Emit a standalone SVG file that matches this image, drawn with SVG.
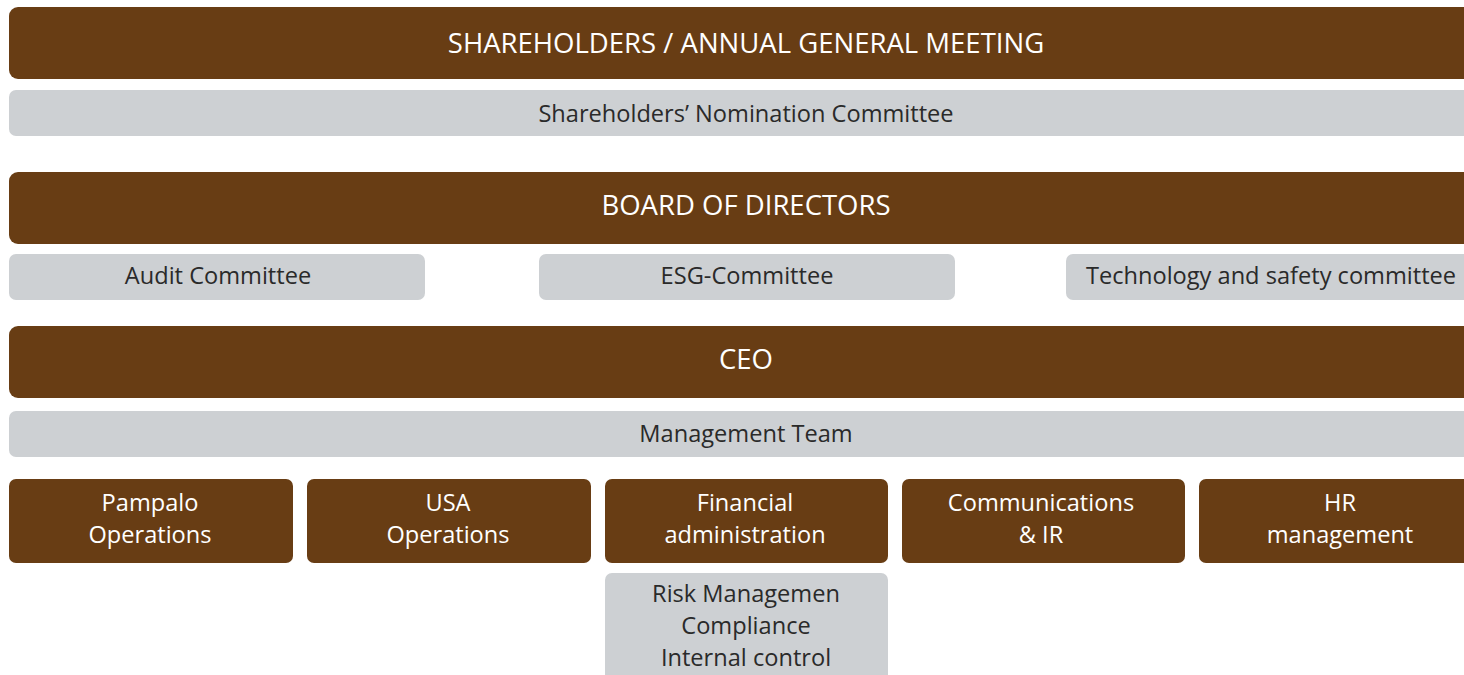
<svg xmlns="http://www.w3.org/2000/svg" width="1464" height="675" viewBox="0 0 1464 675">
  <style>
    .bar { fill: #683d14; }
    .sub { fill: #cdd0d3; }
    .hd { font-family: "Open Sans", "Liberation Sans", sans-serif; font-size: 27.5px; fill: #ffffff; text-anchor: middle; }
    .lt { font-family: "Open Sans", "Liberation Sans", sans-serif; font-size: 23.6px; fill: #ffffff; text-anchor: middle; }
    .dk { font-family: "Open Sans", "Liberation Sans", sans-serif; font-size: 23.6px; fill: #2a2a2a; text-anchor: middle; }
  </style>
  <rect width="1464" height="675" fill="#ffffff"/>

  <g id="agm">
    <rect class="bar" x="9" y="7" width="1490" height="72" rx="9"/>
    <text class="hd" x="746" y="53">SHAREHOLDERS / ANNUAL GENERAL MEETING</text>
  </g>
  <g id="nomination">
    <rect class="sub" x="9" y="90" width="1490" height="46" rx="7"/>
    <text class="dk" x="746" y="122">Shareholders’ Nomination Committee</text>
  </g>

  <g id="board">
    <rect class="bar" x="9" y="172" width="1490" height="72" rx="9"/>
    <text class="hd" x="746" y="215">BOARD OF DIRECTORS</text>
  </g>
  <g id="audit">
    <rect class="sub" x="9" y="254" width="416" height="46" rx="7"/>
    <text class="dk" x="218" y="284">Audit Committee</text>
  </g>
  <g id="esg">
    <rect class="sub" x="539" y="254" width="416" height="46" rx="7"/>
    <text class="dk" x="747" y="284">ESG-Committee</text>
  </g>
  <g id="tech">
    <rect class="sub" x="1066" y="254" width="430" height="46" rx="7"/>
    <text class="dk" x="1271" y="284">Technology and safety committee</text>
  </g>

  <g id="ceo">
    <rect class="bar" x="9" y="326" width="1490" height="72" rx="9"/>
    <text class="hd" x="746" y="369">CEO</text>
  </g>
  <g id="management">
    <rect class="sub" x="9" y="411" width="1490" height="46" rx="7"/>
    <text class="dk" x="746" y="442">Management Team</text>
  </g>

  <g id="pampalo">
    <rect class="bar" x="9" y="479" width="284" height="84" rx="7"/>
    <text class="lt" x="150" y="511">Pampalo</text>
    <text class="lt" x="150" y="543">Operations</text>
  </g>
  <g id="usa">
    <rect class="bar" x="307" y="479" width="284" height="84" rx="7"/>
    <text class="lt" x="448" y="511">USA</text>
    <text class="lt" x="448" y="543">Operations</text>
  </g>
  <g id="finance">
    <rect class="bar" x="605" y="479" width="283" height="84" rx="7"/>
    <text class="lt" x="745" y="511">Financial</text>
    <text class="lt" x="745" y="543">administration</text>
  </g>
  <g id="communications">
    <rect class="bar" x="902" y="479" width="283" height="84" rx="7"/>
    <text class="lt" x="1041" y="511">Communications</text>
    <text class="lt" x="1041" y="543">&amp; IR</text>
  </g>
  <g id="hr">
    <rect class="bar" x="1199" y="479" width="283" height="84" rx="7"/>
    <text class="lt" x="1340" y="511">HR</text>
    <text class="lt" x="1340" y="543">management</text>
  </g>
  <g id="risk">
    <rect class="sub" x="605" y="573" width="283" height="120" rx="7"/>
    <text class="dk" x="746" y="602">Risk Managemen</text>
    <text class="dk" x="746" y="634">Compliance</text>
    <text class="dk" x="746" y="666">Internal control</text>
  </g>

  <g id="connectors"/>
</svg>
